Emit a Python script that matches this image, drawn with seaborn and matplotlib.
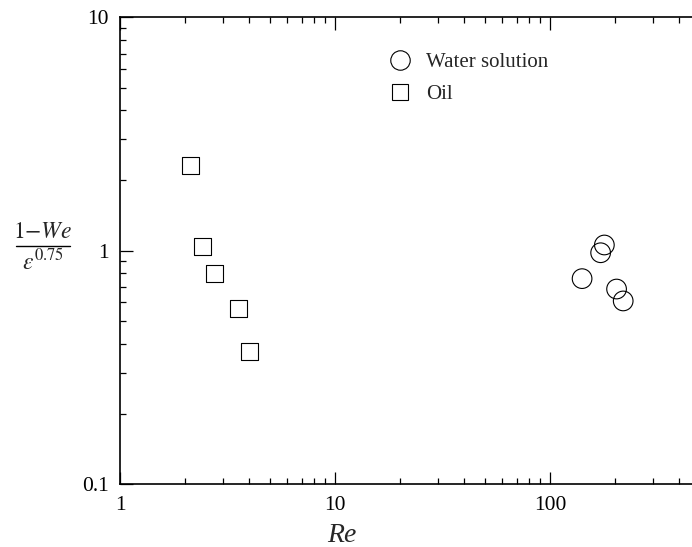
import numpy as np
import pandas as pd
import matplotlib
matplotlib.use("Agg")
import matplotlib.pyplot as plt
import seaborn as sns
from matplotlib.ticker import FixedLocator, FixedFormatter, LogLocator, NullFormatter
from matplotlib.lines import Line2D

sns.set_style("white")
plt.rcParams['font.family'] = ['Liberation Serif', 'DejaVu Serif']
plt.rcParams['mathtext.fontset'] = 'stix'

# Data
oil_re = [2.12, 2.41, 2.74, 3.54, 4.02]
oil_y = [2.31, 1.04, 0.80, 0.564, 0.369]
water_re = [141, 172, 179, 204, 219]
water_y = [0.759, 0.98, 1.058, 0.685, 0.609]
series_names = ["Water solution", "Oil"]
x_ticks = [1, 10, 100]
x_tick_labels = ["1", "10", "100"]
y_ticks = [0.1, 1, 10]
y_tick_labels = ["0.1", "1", "10"]

df = pd.DataFrame({
    "Re": water_re + oil_re,
    "val": water_y + oil_y,
    "fluid": [series_names[0]] * len(water_re) + [series_names[1]] * len(oil_re),
})

fig = plt.figure(figsize=(6.92, 5.47), dpi=100)
ax = fig.add_axes([120 / 692, 1 - 484 / 547, 1 - 120 / 692, (484 - 17.4) / 547])

sns.scatterplot(data=df, x="Re", y="val", style="fluid",
                markers={series_names[0]: "o", series_names[1]: "s"},
                size="fluid", sizes={series_names[0]: 200, series_names[1]: 150},
                facecolor="none", edgecolor="black", linewidth=0.8,
                legend=False, ax=ax, zorder=3)
for coll in ax.collections:
    coll.set_facecolor("none")
    coll.set_edgecolor("black")
    coll.set_linewidth(0.8)

ax.set_xscale("log")
ax.set_yscale("log")
ax.set_xlim(1, 10 ** (572 / 215))
ax.set_ylim(0.1, 10)

ax.xaxis.set_major_locator(FixedLocator(x_ticks))
ax.xaxis.set_major_formatter(FixedFormatter(x_tick_labels))
ax.yaxis.set_major_locator(FixedLocator(y_ticks))
ax.yaxis.set_major_formatter(FixedFormatter(y_tick_labels))
ax.xaxis.set_minor_locator(LogLocator(base=10, subs=np.arange(2, 10)))
ax.yaxis.set_minor_locator(LogLocator(base=10, subs=np.arange(2, 10)))
ax.xaxis.set_minor_formatter(NullFormatter())
ax.yaxis.set_minor_formatter(NullFormatter())

ax.tick_params(which="both", direction="in", top=True, right=False, bottom=True, left=True,
               labelsize=15.5, colors="black", width=0.9)
ax.tick_params(which="major", length=9)
ax.tick_params(which="minor", length=4.5)
ax.tick_params(axis="x", which="major", pad=9)
ax.tick_params(axis="y", which="major", pad=8)

for s in ["left", "bottom", "top"]:
    ax.spines[s].set_visible(True)
    ax.spines[s].set_color("black")
    ax.spines[s].set_linewidth(1.2)
ax.spines["right"].set_visible(False)

ax.set_xlabel("")
ax.set_ylabel("")
fig.text(342 / 692, 1 - 536 / 547, "Re", fontsize=20, style="italic", ha="center", va="center")

# y label as a fraction
fx = 43 / 692
fig.text(fx, 1 - 233 / 547, r"$1\mathrm{-}\mathit{We}$", fontsize=17, ha="center", va="center")
fig.add_artist(Line2D([16 / 692, 70 / 692], [1 - 246 / 547, 1 - 246 / 547], color="black", lw=1.0))
fig.text(fx, 1 - 262 / 547, r"$\varepsilon^{0.75}$", fontsize=17, ha="center", va="center")

handles = [
    Line2D([], [], marker="o", linestyle="none", markersize=14, markerfacecolor="none",
           markeredgecolor="black", markeredgewidth=0.8, label=series_names[0]),
    Line2D([], [], marker="s", linestyle="none", markersize=12, markerfacecolor="none",
           markeredgecolor="black", markeredgewidth=0.8, label=series_names[1]),
]
ax.legend(handles=handles, loc="upper left",
          bbox_to_anchor=((418 - 120) / 572 - 0.083, 1 - (44 - 17.4) / (484 - 17.4)),
          frameon=False, fontsize=15, handletextpad=0.25, labelspacing=0.62, borderaxespad=0)

fig.savefig("out.png", dpi=100)
